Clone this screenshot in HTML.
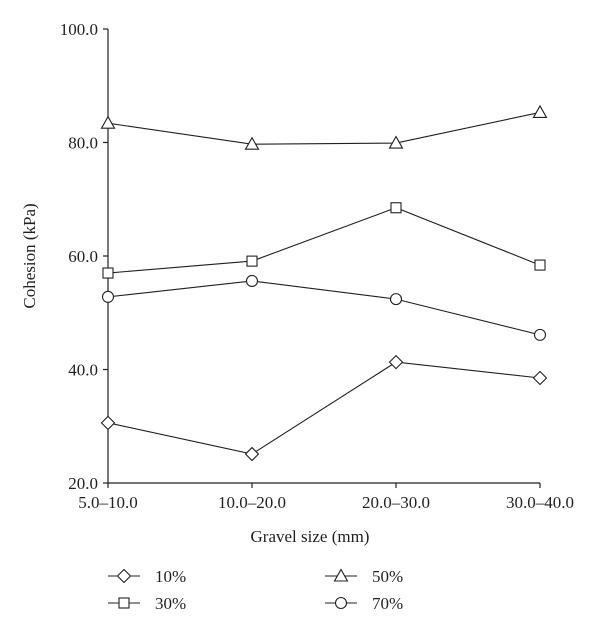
<!DOCTYPE html>
<html><head><meta charset="utf-8"><style>
html,body{margin:0;padding:0;background:#fff;}
svg{display:block;font-family:"Liberation Serif",serif;}
</style></head><body>
<svg id="chart" width="600" height="630" viewBox="0 0 600 630" xmlns="http://www.w3.org/2000/svg">
<g id="axes"></g>
<g id="series"></g>
<text x="0" y="0" transform="translate(35,256) rotate(-90)" text-anchor="middle" font-size="17" fill="#231f20">Cohesion (kPa)</text>
<text x="310" y="542" text-anchor="middle" font-size="17" fill="#231f20">Gravel size (mm)</text>
<g id="legend"></g>
</svg>
<script>
const categories = ["5.0–10.0","10.0–20.0","20.0–30.0","30.0–40.0"];
const yTicks = [20,40,60,80,100];
const yTickLabels = ["20.0","40.0","60.0","80.0","100.0"];
const seriesNames = ["10%","30%","50%","70%"];
const s10 = [30.6,25.1,41.3,38.5];
const s30 = [57.0,59.1,68.5,58.4];
const s50 = [83.4,79.7,79.9,85.3];
const s70 = [52.8,55.6,52.4,46.1];

const NS="http://www.w3.org/2000/svg";
const col="#231f20";
const x0=108,x1=540,yTop=29,yBot=483;
function xs(i){return x0+i*(x1-x0)/(categories.length-1);}
function ys(v){return yBot-(v-20)/80*(yBot-yTop);}
function mk(tag,attrs,parent){const e=document.createElementNS(NS,tag);for(const k in attrs)e.setAttribute(k,attrs[k]);parent.appendChild(e);return e;}
const axes=document.getElementById('axes');
let yl=mk('line',{x1:x0,y1:yTop,x2:x0,y2:yBot,stroke:col,'stroke-width':1.2},axes);


let xl=mk('line',{x1:x0,y1:yBot,x2:x1,y2:yBot,stroke:col,'stroke-width':1.2},axes);


yTicks.forEach((v,i)=>{
  const y=ys(v);
  const t=mk('line',{x1:x0-5,y1:y,x2:x0,y2:y,stroke:col,'stroke-width':1.2},axes);
  
  
  const tx=mk('text',{x:x0-10,y:y+6,'text-anchor':'end','font-size':17,fill:col},axes);
  tx.textContent=yTickLabels[i];
  
  
});
categories.forEach((c,i)=>{
  const x=xs(i);
  const t=mk('line',{x1:x,y1:yBot,x2:x,y2:yBot+5,stroke:col,'stroke-width':1.2},axes);
  
  
  const tx=mk('text',{x:x,y:yBot+25,'text-anchor':'middle','font-size':17,fill:col},axes);
  tx.textContent=c;
  
  
});
function marker(type,x,y,g){
  const st={fill:'#fff',stroke:col,'stroke-width':1.1};
  let e;
  if(type==='diamond') e=mk('polygon',Object.assign({points:`${x},${y-6.5} ${x+6.5},${y} ${x},${y+6.5} ${x-6.5},${y}`},st),g);
  else if(type==='square') e=mk('rect',Object.assign({x:x-5,y:y-5,width:10,height:10},st),g);
  else if(type==='triangle') e=mk('polygon',Object.assign({points:`${x},${y-6.5} ${x+6.5},${y+5} ${x-6.5},${y+5}`},st),g);
  else e=mk('circle',Object.assign({cx:x,cy:y,r:5.5},st),g);
  return e;
}
const all=[s10,s30,s50,s70];
const types=['diamond','square','triangle','circle'];
const ser=document.getElementById('series');
all.forEach((arr,si)=>{
  const g=mk('g',{},ser);
  
  
  const p=mk('polyline',{points:arr.map((v,i)=>xs(i)+','+ys(v)).join(' '),fill:'none',stroke:col,'stroke-width':1.1},g);
  
  
  arr.forEach((v,i)=>{
    const m=marker(types[si],xs(i),ys(v),g);
    
    
  });
});
const leg=document.getElementById('legend');
const lpos=[[108,576],[108,603],[325,576],[325,603]];
seriesNames.forEach((n,i)=>{
  const [lx,ly]=lpos[i];
  const g=mk('g',{},leg);
  
  
  mk('line',{x1:lx,y1:ly,x2:lx+32,y2:ly,stroke:col,'stroke-width':1.1},g);
  marker(types[i],lx+16,ly,g);
  const t=mk('text',{x:lx+47,y:ly+6,'font-size':17,fill:col},g);
  t.textContent=n;
});
</script>
</body></html>
